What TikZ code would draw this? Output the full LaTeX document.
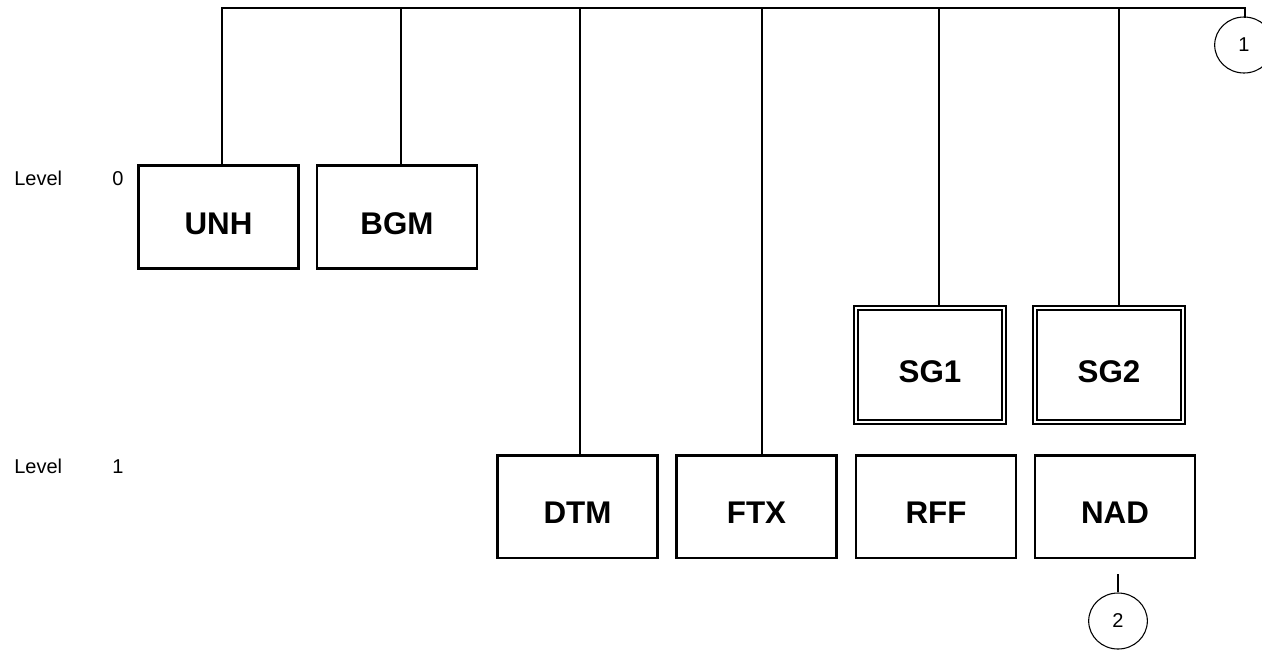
\documentclass[tikz,border=0pt]{standalone}
\usepackage{fontspec}
\setmainfont{Liberation Sans}
\usetikzlibrary{shapes.geometric}
\begin{document}
\begin{tikzpicture}[x=0.75pt,y=-0.75pt,
  bus/.style={line width=2.2pt},
  lab/.style={font=\fontsize{23.5}{28}\selectfont\bfseries,text height=25.8pt,text depth=0pt},
  box/.style={draw,line width=2pt,minimum width=120pt,minimum height=77pt,inner sep=0pt,lab},
  dbox/.style={draw,line width=1.4pt,double,double distance=1.6pt,minimum width=111pt,minimum height=85.5pt,inner sep=0pt,lab},
  conn/.style={ellipse,draw,line width=0.8pt,minimum width=44pt,minimum height=42pt,inner sep=0pt,font=\fontsize{15}{17}\selectfont},
  lvl/.style={font=\fontsize{15}{17}\selectfont,inner sep=0pt}]
\useasboundingbox (0,0) rectangle (1262,651);
% boxes level 0
\node[box] (UNH) at (218.5,217) {UNH};
\node[box] (BGM) at (397,217) {BGM};
% SG boxes
\node[dbox] (SG1) at (930,365) {SG1};
\node[dbox] (SG2) at (1109,365) {SG2};
% level 1
\node[box] (DTM) at (577.5,506.5) {DTM};
\node[box] (FTX) at (756.5,506.5) {FTX};
\node[box] (RFF) at (936,506.5) {RFF};
\node[box] (NAD) at (1115,506.5) {NAD};
% connectors
\node[conn] (C1) at (1244,45) {1};
\node[conn] (C2) at (1118,621) {2};
% labels
\node[lvl,anchor=base west] (L0) at (14,185) {Level};
\node[lvl,anchor=base] (L0n) at (118,185) {0};
\node[lvl,anchor=base west] (L1) at (14,473) {Level};
\node[lvl,anchor=base] (L1n) at (118,473) {1};
% bus
\coordinate (bA) at (222,8);
\coordinate (bB) at (401,8);
\coordinate (bC) at (580,8);
\coordinate (bD) at (762,8);
\coordinate (bE) at (939,8);
\coordinate (bF) at (1119,8);
\coordinate (bG) at (1245,8);
\coordinate (nadA) at (1118,574);
\draw[bus,line cap=rect] (bA) -- (bG) -- (C1.north -| bG);
\draw[bus] (bA) -- (bA |- UNH.north);
\draw[bus] (bB) -- (bB |- BGM.north);
\draw[bus] (bC) -- (bC |- DTM.north);
\draw[bus] (bD) -- (bD |- FTX.north);
\draw[bus] (bE) -- (bE |- SG1.north);
\draw[bus] (bF) -- (bF |- SG2.north);
\draw[bus] (nadA) -- (C2.north);
\end{tikzpicture}
\end{document}
